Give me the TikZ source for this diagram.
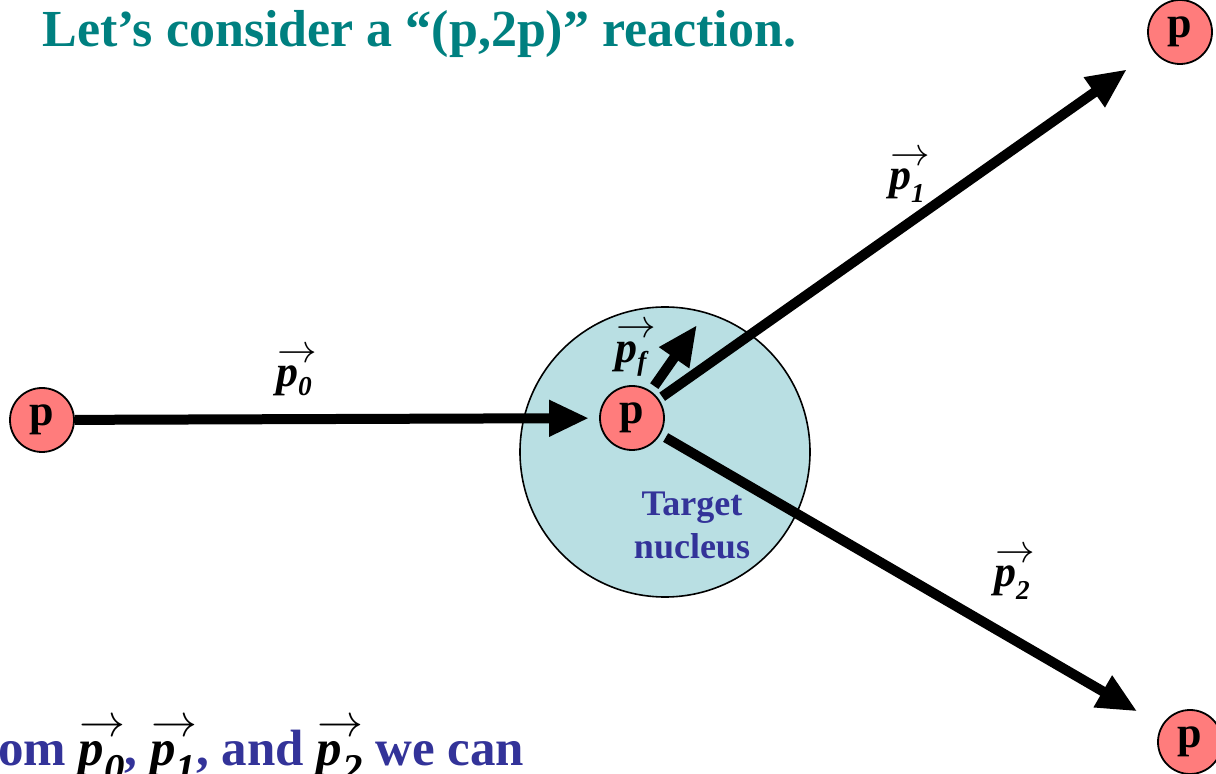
\documentclass[tikz,border=0pt]{standalone}
\usepackage{graphicx}
\usepackage{fontspec}
\setmainfont{Liberation Serif}
\usetikzlibrary{arrows.meta}
\definecolor{titlecol}{RGB}{0,128,128}
\definecolor{bluecol}{RGB}{51,51,153}
\definecolor{nucfill}{RGB}{185,223,227}
\definecolor{protfill}{RGB}{255,124,124}
\newcommand\mvec[3][0.62]{{\color{black}\makebox[0pt][l]{\raisebox{0.55em}{\hspace{0.02em}\resizebox{0.9em}{!}{$\rightarrow$}}}\textbf{\textit{p}}\raisebox{#3}{\scalebox{#1}{\textbf{\textit{#2}}}}}}
\begin{document}
\begin{tikzpicture}[x=0.5pt,y=-0.5pt,
  proton/.style={circle, draw=black, line width=0.9pt, fill=protfill, minimum size=32pt, inner sep=0pt, font=\fontsize{22}{22}\selectfont\bfseries},
  mom/.style={line width=5pt, -{Triangle[length=20pt,width=17pt]}},
  lab/.style={font=\fontsize{22}{22}\selectfont, inner sep=0pt},
  bigtext/.style={font=\fontsize{26}{28}\selectfont\bfseries, inner sep=0pt}]
\useasboundingbox (0,0) rectangle (1216,774);
\clip (0,0) rectangle (1216,774);
% title
\node[bigtext, text=titlecol, anchor=base west] (title) at (42,47) {Let’s consider a “(p,2p)” reaction.};
% nucleus
\node[circle, draw=black, line width=0.8pt, fill=nucfill, minimum size=145pt, inner sep=0pt] (nuc) at (665,452) {};
\node[align=center, font=\fontsize{18}{21.5}\selectfont\bfseries, text=bluecol] (tn) at (692,525) {Target\\nucleus};
% protons
\node[proton] (lp) at (42,420) {p};
\node[proton] (cp) at (632,418) {p};
\node[proton] (tr) at (1180,32) {p};
\node[proton] (br) at (1190,742) {p};
\coordinate (pft) at (697,325);
% momenta
\draw[mom, shorten >=5pt] (lp) -- (cp);
\draw[mom, shorten >=16pt, shorten <=2pt] (cp) -- (tr);
\draw[mom, shorten >=14pt, shorten <=3pt] (cp) -- (br);
\draw[mom, shorten <=3pt] (cp) -- (pft);
% labels
\node[lab] (l0) at (294,372) {\mvec{0}{-0.2em}};
\node[lab] (l1) at (907,177) {\mvec{1}{-0.3em}};
\node[lab] (l2) at (1012,574) {\mvec{2}{-0.3em}};
\node[lab] (lf) at (632,350) {\mvec{f}{-0.2em}};
% bottom text
\node[font=\fontsize{25.5}{28}\selectfont\bfseries, inner sep=0pt, text=bluecol, anchor=base west] (bot) at (-41,765) {from \mvec[0.8]{0}{-0.35em}, \mvec[0.8]{1}{-0.35em}, and \mvec[0.8]{2}{-0.35em} we can};
\end{tikzpicture}
\end{document}
